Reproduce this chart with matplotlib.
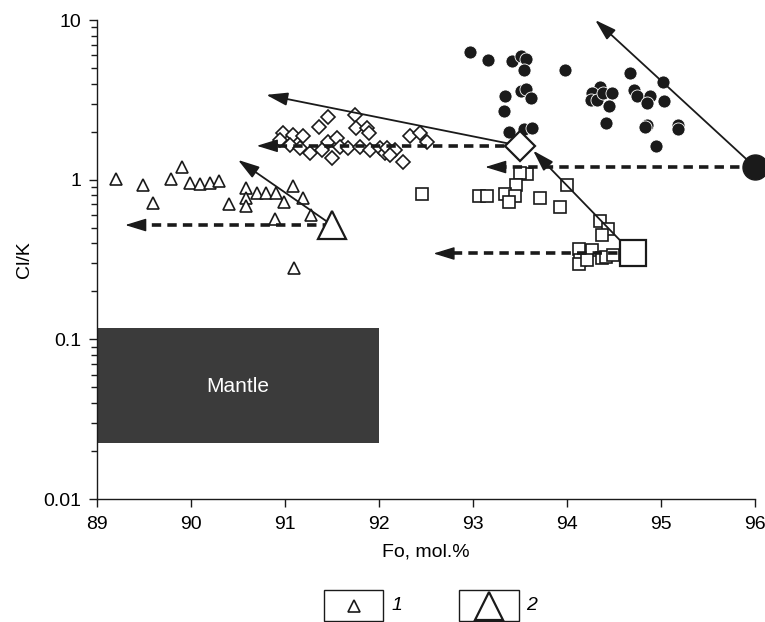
import matplotlib
matplotlib.use("Agg")
import matplotlib.pyplot as plt
from matplotlib.patches import Rectangle
from matplotlib.ticker import FixedLocator, LogLocator, NullFormatter, FixedFormatter

plt.rcParams['font.family'] = ['Liberation Sans', 'DejaVu Sans']

# olivine Fo (mol.%) vs Cl/K
tri_fo = [89.20, 89.49, 89.60, 89.79, 89.90, 89.99, 90.10, 90.20, 90.30, 90.40,
          90.59, 90.59, 90.59, 90.70, 90.80, 90.90, 90.99, 91.09, 91.19, 90.89,
          91.28, 91.10]
tri_clk = [1.01, 0.93, 0.71, 1.01, 1.20, 0.95, 0.94, 0.95, 0.98, 0.70,
           0.89, 0.77, 0.68, 0.83, 0.83, 0.83, 0.72, 0.91, 0.77, 0.57,
           0.60, 0.28]

dia_fo = [90.98, 91.09, 91.19, 90.95, 91.05, 91.16, 91.27, 91.46, 91.36, 91.74,
          91.76, 91.87, 91.89, 91.46, 91.55, 91.50, 91.59, 91.67, 91.80, 91.90,
          91.39, 92.01, 92.06, 92.33, 92.44, 92.51, 92.08, 92.17, 92.26, 92.12]
dia_clk = [1.96, 1.91, 1.88, 1.78, 1.65, 1.58, 1.47, 2.46, 2.15, 2.55,
           2.10, 2.10, 1.96, 1.73, 1.82, 1.37, 1.61, 1.58, 1.61, 1.54,
           1.54, 1.58, 1.47, 1.87, 1.96, 1.73, 1.58, 1.54, 1.30, 1.43]

sq_fo = [92.46, 93.57, 93.50, 93.46, 93.06, 93.15, 93.34, 93.45, 93.38, 93.71,
         94.00, 93.93, 94.35, 94.44, 94.37, 94.13, 94.27, 94.14, 94.13, 94.21,
         94.37, 94.42, 94.49]
sq_clk = [0.81, 1.09, 1.10, 0.92, 0.79, 0.79, 0.81, 0.79, 0.72, 0.77,
          0.92, 0.67, 0.55, 0.49, 0.45, 0.37, 0.365, 0.316, 0.295, 0.316,
          0.324, 0.33, 0.34]

circ_fo = [92.97, 93.16, 93.42, 93.51, 93.56, 93.54, 93.98, 93.34, 93.51, 93.56,
           93.62, 93.33, 93.38, 93.54, 93.63, 94.41, 94.67, 95.02, 94.71, 94.74,
           94.88, 94.85, 95.03, 94.85, 94.83, 95.18, 95.18, 94.95, 94.35, 94.27,
           94.26, 94.32, 94.38, 94.48, 94.45]
circ_clk = [6.31, 5.60, 5.57, 5.91, 5.68, 4.89, 4.89, 3.34, 3.61, 3.72,
            3.27, 2.68, 2.00, 2.08, 2.11, 2.27, 4.67, 4.10, 3.65, 3.32,
            3.35, 3.01, 3.13, 2.21, 2.13, 2.20, 2.09, 1.63, 3.83, 3.48,
            3.16, 3.16, 3.48, 3.51, 2.90]

# big symbols (group averages) and where their arrows point
big_tri = (91.5, 0.52)
big_dia = (93.5, 1.63)
big_sq = (94.7, 0.345)
big_circ = (96.0, 1.2)

dash_ends = [(89.3, 0.52), (90.7, 1.63), (92.58, 0.345), (93.13, 1.2)]
dash_starts = [big_tri, big_dia, big_sq, big_circ]
solid_starts = [big_tri, big_dia, big_sq, big_circ]
solid_ends = [(90.5, 1.33), (90.8, 3.4), (93.64, 1.52), (94.3, 10.0)]

mantle_fo = (89.0, 92.0)
mantle_clk = (0.0224, 0.117)

ink = '#1a1a1a'

fig = plt.figure(figsize=(7.65, 6.22), dpi=100)
ax = fig.add_axes([0.1268, 0.1977, 0.8601, 0.7701])

ax.add_patch(Rectangle((mantle_fo[0], mantle_clk[0]), mantle_fo[1] - mantle_fo[0],
                       mantle_clk[1] - mantle_clk[0], facecolor='#3b3b3b',
                       edgecolor='none', zorder=1))
ax.text(sum(mantle_fo) / 2, 0.051, 'Mantle', color='white', fontsize=15,
        ha='center', va='center', zorder=2)

# small symbols
ax.plot(tri_fo, tri_clk, '^', ms=8.6, mfc='white', mec=ink, mew=1.2, ls='none', zorder=3)
ax.plot(sq_fo, sq_clk, 's', ms=8.6, mfc='white', mec=ink, mew=1.2, ls='none', zorder=3)
ax.plot(circ_fo, circ_clk, 'o', ms=9.4, mfc=ink, mec='white', mew=0.6, ls='none', zorder=3)
ax.plot(dia_fo, dia_clk, 'D', ms=7.3, mfc='white', mec=ink, mew=1.2, ls='none', zorder=3)

# dashed arrows
for (x0, y0), (x1, y1) in zip(dash_starts, dash_ends):
    ax.plot([x0, x1 + 0.12], [y0, y1], color=ink, lw=2.6, ls=(0, (2.6, 1.7)),
            solid_capstyle='butt', zorder=4)
    ax.annotate('', xy=(x1, y1), xytext=(x1 + 0.2, y1),
                arrowprops=dict(arrowstyle='-|>,head_length=1.3,head_width=0.4',
                                color=ink, lw=1, shrinkA=0, shrinkB=0,
                                mutation_scale=10), zorder=4)

# solid arrows
for (x0, y0), (x1, y1) in zip(solid_starts, solid_ends):
    ax.annotate('', xy=(x1, y1), xytext=(x0, y0),
                arrowprops=dict(arrowstyle='-|>,head_length=1.3,head_width=0.4',
                                color=ink, lw=1.3, shrinkA=0, shrinkB=0,
                                mutation_scale=10), zorder=4)

# big symbols
ax.plot(*big_tri, '^', ms=20, mfc='white', mec=ink, mew=1.6, zorder=5)
ax.plot(*big_dia, 'D', ms=14.8, mfc='white', mec=ink, mew=1.6, zorder=5)
ax.plot(*big_sq, 's', ms=19.4, mfc='white', mec=ink, mew=1.6, zorder=5)
ax.plot(*big_circ, 'o', ms=18, mfc=ink, mec=ink, mew=1, zorder=5, clip_on=False)

ax.set_yscale('log')
ax.set_xlim(89, 96)
ax.set_ylim(0.01, 10)
ax.xaxis.set_major_locator(FixedLocator([89, 90, 91, 92, 93, 94, 95, 96]))
ax.yaxis.set_major_locator(FixedLocator([0.01, 0.1, 1, 10]))
ax.yaxis.set_major_formatter(FixedFormatter(['0.01', '0.1', '1', '10']))
ax.yaxis.set_minor_locator(LogLocator(base=10, subs=range(2, 10)))
ax.yaxis.set_minor_formatter(NullFormatter())
ax.spines['top'].set_visible(False)
ax.spines['right'].set_visible(False)
for s in ('left', 'bottom'):
    ax.spines[s].set_linewidth(1.0)
    ax.spines[s].set_color(ink)
ax.tick_params(axis='both', which='major', labelsize=14, length=6, width=1.0,
               color=ink, direction='out')
ax.tick_params(axis='x', which='major', pad=6)
ax.tick_params(axis='y', which='major', pad=5)
ax.tick_params(axis='y', which='minor', length=4, width=1.0, color=ink)
ax.set_xlabel('Fo, mol.%', fontsize=14, labelpad=8)
ax.set_ylabel('Cl/K', fontsize=14, labelpad=8)

# legend drawn as boxes below the plot
lax = fig.add_axes([0, 0, 1, 1], facecolor='none')
lax.set_xlim(0, 765)
lax.set_ylim(622, 0)
lax.axis('off')
lax.add_patch(Rectangle((324, 590), 59, 31, facecolor='white', edgecolor=ink, lw=1))
lax.add_patch(Rectangle((459, 590), 60, 31, facecolor='white', edgecolor=ink, lw=1))
lax.plot(354, 606, '^', ms=8, mfc='white', mec=ink, mew=1.2)
lax.plot(489, 605.5, '^', ms=20, mfc='white', mec=ink, mew=1.6)
lax.text(392, 606, '1', fontsize=14, style='italic', va='center', ha='left')
lax.text(526, 606, '2', fontsize=14, style='italic', va='center', ha='left')

fig.savefig('out.png', dpi=100)
